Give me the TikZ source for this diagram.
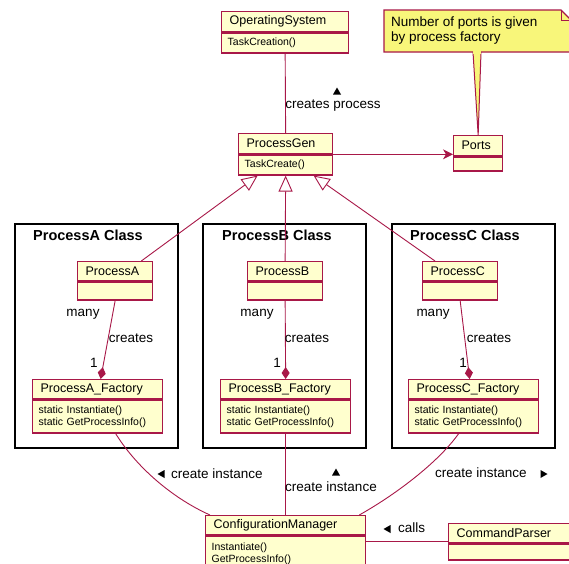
\documentclass[tikz,border=0pt]{standalone}
\usepackage{fontspec}
\setmainfont{Liberation Sans}
\usetikzlibrary{arrows.meta}
\definecolor{crim}{RGB}{168,24,72}
\definecolor{clsfill}{RGB}{255,255,206}
\definecolor{notefill}{RGB}{248,246,122}
\tikzset{
  hdr/.style={draw=crim, fill=clsfill, line width=1.3pt, anchor=north west, inner xsep=8pt, inner ysep=0pt, align=left, font=\fontsize{12.5}{14}\selectfont},
  bdy/.style={draw=crim, fill=clsfill, line width=1.3pt, anchor=north west, inner xsep=6pt, inner ysep=0pt, align=left, font=\fontsize{10.5}{12}\selectfont},
  pkg/.style={draw=black, line width=2pt, fill=white, anchor=north west, minimum width=163pt, minimum height=224pt, inner sep=0pt},
  pkgtitle/.style={anchor=west, inner sep=0pt, font=\fontsize{14.5}{16}\selectfont\bfseries},
  lbl/.style={inner sep=0pt, font=\fontsize{13.5}{15}\selectfont},
  conn/.style={draw=crim, line width=0.9pt},
  gen/.style={conn, -{Triangle[length=16pt,width=14pt,fill=white,line width=0.9pt]}},
  comp/.style={conn, -{Diamond[length=12pt,width=8pt,fill=crim]}},
  nav/.style={conn, -{Stealth[length=10pt,width=10pt,inset=3pt]}}
}
\begin{document}
\begin{tikzpicture}[x=1pt,y=-1pt]
\useasboundingbox (0,0) rectangle (569,563);
\fill[white] (0,0) rectangle (569,563);

% packages
\node[pkg] (pka) at (14,223) {};
\node[pkg] (pkb) at (202,223) {};
\node[pkg] (pkc) at (391,223) {};
\node[pkgtitle] (pkat) at (33,235) {ProcessA Class};
\node[pkgtitle] (pkbt) at (222,235) {ProcessB Class};
\node[pkgtitle] (pkct) at (410,235) {ProcessC Class};

% note
\coordinate (n1) at (384,10);
\coordinate (n2) at (561,10);
\coordinate (n3) at (571,20);
\coordinate (n4) at (571,52);
\coordinate (n5) at (384,52);
\coordinate (ct1) at (473,52);
\coordinate (ct2) at (481,52);
\draw[crim, fill=notefill, line width=1.2pt] (n1) -- (n2) -- (n3) -- (n4) -- (n5) -- cycle;
\draw[crim, line width=1pt] (n2) -- (561,20) -- (n3);
\node[lbl, anchor=north west, align=left] (notetext) at (391,17) {Number of ports is given\\by process factory};

% classes
\node[hdr, text width=111pt, minimum height=20pt] (osh) at (221,11) {OperatingSystem};
\node[bdy, text width=115pt, minimum height=20pt] (osb) at (osh.south west) {TaskCreation()};

\node[hdr, text width=78pt, minimum height=20pt] (pgh) at (238,133) {ProcessGen};
\node[bdy, text width=82pt, minimum height=20pt] (pgb) at (pgh.south west) {TaskCreate()};

\node[hdr, text width=33pt, minimum height=20pt] (poh) at (453,135) {Ports};
\node[bdy, text width=37pt, minimum height=14pt] (pob) at (poh.south west) {};

% connectors (top)
\draw[conn] (osb.south) -- (pgh.north);
\draw[nav] (pgh.south east) -- (pgh.south east -| poh.west);
\draw[crim, fill=notefill, line width=1pt] (ct1) -- (poh.north) -- (ct2);
\fill[notefill] ([yshift=-1.5]ct1) rectangle ([yshift=1]ct2);

\node[hdr, text width=59pt, minimum height=19pt] (pah) at (77,261) {ProcessA};
\node[bdy, text width=63pt, minimum height=18pt] (pab) at (pah.south west) {};
\node[hdr, text width=59pt, minimum height=19pt] (pbh) at (247,261) {ProcessB};
\node[bdy, text width=63pt, minimum height=18pt] (pbb) at (pbh.south west) {};
\node[hdr, text width=59pt, minimum height=19pt] (pch) at (422,261) {ProcessC};
\node[bdy, text width=63pt, minimum height=18pt] (pcb) at (pch.south west) {};

\node[hdr, text width=114pt, minimum height=19pt] (fah) at (32,379) {ProcessA\_Factory};
\node[bdy, text width=118pt, minimum height=33pt] (fab) at (fah.south west) {static Instantiate()\\static GetProcessInfo()};
\node[hdr, text width=114pt, minimum height=19pt] (fbh) at (220,379) {ProcessB\_Factory};
\node[bdy, text width=118pt, minimum height=33pt] (fbb) at (fbh.south west) {static Instantiate()\\static GetProcessInfo()};
\node[hdr, text width=114pt, minimum height=19pt] (fch) at (408,379) {ProcessC\_Factory};
\node[bdy, text width=118pt, minimum height=33pt] (fcb) at (fch.south west) {static Instantiate()\\static GetProcessInfo()};

\node[hdr, text width=144pt, minimum height=19pt] (cmh) at (205,515) {ConfigurationManager};
\node[bdy, text width=148pt, minimum height=35pt, anchor=north west] (cmb) at (cmh.south west) {Instantiate()\\GetProcessInfo()};

\node[hdr, text width=114pt, minimum height=19pt] (cph) at (448,523) {CommandParser};
\node[bdy, text width=118pt, minimum height=16pt] (cpb) at (cph.south west) {};

% generalizations
\draw[gen] ([xshift=-12]pah.north east) -- ([xshift=-28]pgb.south);
\draw[gen] (pbh.north) -- (pgb.south);
\draw[gen] ([xshift=13]pch.north west) -- ([xshift=28]pgb.south);

% compositions
\draw[comp] (pab.south) -- ([xshift=3]fah.north);
\draw[comp] (pbb.south) -- (fbh.north);
\draw[comp] (pcb.south) -- ([xshift=-4]fch.north);

% factory to configuration manager
\draw[conn] ([xshift=18]fab.south) .. controls (135,465) and (170,497) .. ([xshift=5]cmh.north west);
\draw[conn] (fbb.south) -- (cmh.north);
\draw[conn] ([xshift=-15]fcb.south) .. controls (440,460) and (400,492) .. ([xshift=-7]cmh.north east);
\draw[conn] ([yshift=-6]cmb.north east) -- ([yshift=-6]cmb.north east -| cph.west);

% direction triangles
\coordinate (t1) at (337,91);
\coordinate (t2) at (161,474);
\coordinate (t3) at (336,472);
\coordinate (t4) at (544,474);
\coordinate (t5) at (387,529);
\fill[black] ([shift={(-4,3.5)}]t1) -- ([shift={(4,3.5)}]t1) -- ([shift={(0,-3.5)}]t1) -- cycle;
\fill[black] ([shift={(-4,3.5)}]t3) -- ([shift={(4,3.5)}]t3) -- ([shift={(0,-3.5)}]t3) -- cycle;
\fill[black] ([shift={(-3.5,0)}]t2) -- ([shift={(3.5,-4)}]t2) -- ([shift={(3.5,4)}]t2) -- cycle;
\fill[black] ([shift={(-3.5,0)}]t5) -- ([shift={(3.5,-4)}]t5) -- ([shift={(3.5,4)}]t5) -- cycle;
\fill[black] ([shift={(3.5,0)}]t4) -- ([shift={(-3.5,-4)}]t4) -- ([shift={(-3.5,4)}]t4) -- cycle;

% labels
\node[lbl] (l1) at (333,106) {creates process};
\foreach \n/\x in {a/83, b/257, c/433} \node[lbl] (many\n) at (\x,314) {many};
\foreach \n/\x in {a/131, b/307, c/489} \node[lbl] (cre\n) at (\x,338) {creates};
\foreach \n/\x in {a/94, b/277, c/463} \node[lbl] (one\n) at (\x,363) {1};
\node[lbl, anchor=west] (l2) at (171,474) {create instance};
\node[lbl] (l3) at (331,487) {create instance};
\node[lbl, anchor=west] (l4) at (435,473) {create instance};
\node[lbl, anchor=west] (l5) at (398,528) {calls};
\end{tikzpicture}
\end{document}
